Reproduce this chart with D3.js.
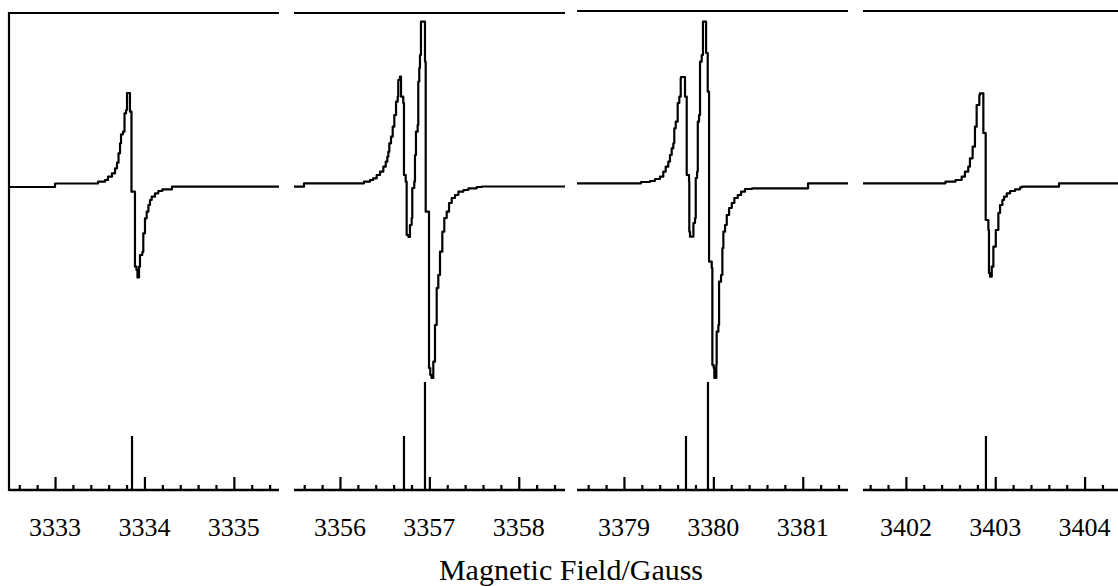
<!DOCTYPE html>
<html>
<head>
<meta charset="utf-8">
<script src="https://cdn.jsdelivr.net/npm/d3@7"></script>
<style>
  html, body { margin: 0; padding: 0; background: #fff; }
  svg { display: block; }
  text { font-family: "Liberation Serif", "Times New Roman", serif; fill: #000; }
</style>
</head>
<body>
<svg id="chart" width="1118" height="586"></svg>
<script>
// Field windows (Gauss) shown in each of the four panels
const fieldWindows = [
  [3332.485, 3335.505],
  [3355.486, 3358.517],
  [3378.475, 3381.506],
  [3401.520, 3404.553]
];

// Labelled major ticks for each panel
const majorTicks = [
  [3333, 3334, 3335],
  [3356, 3357, 3358],
  [3379, 3380, 3381],
  [3402, 3403, 3404]
];

// First-derivative EPR traces: [field (G), intensity (a.u.)]
const spectrum1 = [
  [3332.485, -1], [3332.977, -1], [3333.000, 2.5], [3333.469, 2.5], [3333.481, 4.3],
  [3333.559, 6], [3333.592, 9.3], [3333.637, 12.7], [3333.671, 17.7], [3333.693, 23.3],
  [3333.710, 32.7], [3333.727, 42.7], [3333.738, 51.7], [3333.760, 54.3], [3333.777, 72.7],
  [3333.794, 76], [3333.805, 93], [3333.833, 93], [3333.838, 74.3], [3333.855, 69.3],
  [3333.855, -5.7], [3333.894, -15.7], [3333.894, -80.7], [3333.911, -84], [3333.922, -91.5],
  [3333.939, -80.7], [3333.950, -69], [3333.976, -66], [3333.987, -47.3], [3334.006, -32.3],
  [3334.025, -25.7], [3334.044, -19], [3334.062, -14], [3334.081, -10.7], [3334.118, -7.3],
  [3334.155, -5], [3334.200, -3.3], [3334.308, -0.7], [3335.505, -0.7]
];

const spectrum2 = [
  [3355.486, -0.7], [3355.587, -0.7], [3355.598, 2.7], [3356.258, 2.7], [3356.269, 4.3],
  [3356.336, 6], [3356.370, 7.7], [3356.411, 11], [3356.448, 14.3], [3356.485, 19.3],
  [3356.512, 24.3], [3356.530, 29.3], [3356.541, 34.3], [3356.552, 42.7], [3356.571, 49.3],
  [3356.590, 59.3], [3356.608, 71], [3356.627, 84.3], [3356.646, 89.3], [3356.652, 106],
  [3356.671, 109.3], [3356.683, 89.3], [3356.708, 83], [3356.716, 11], [3356.735, 4.3],
  [3356.746, -49], [3356.766, -51], [3356.783, -39], [3356.802, -32], [3356.809, -2],
  [3356.831, 4.3], [3356.839, 31], [3356.850, 54.3], [3356.869, 61], [3356.876, 104.3],
  [3356.887, 118], [3356.895, 131], [3356.906, 164.3], [3356.928, 164.3], [3356.951, 124.3],
  [3356.959, -25.7], [3356.996, -49], [3356.996, -182], [3357.010, -189], [3357.024, -192],
  [3357.044, -175.7], [3357.063, -139], [3357.082, -102], [3357.100, -89], [3357.119, -65.7],
  [3357.145, -45.7], [3357.167, -32], [3357.194, -25.7], [3357.220, -17], [3357.250, -12],
  [3357.287, -9], [3357.324, -5.7], [3357.380, -4], [3357.436, -2.3], [3357.530, -1],
  [3357.589, -0.5], [3358.517, -0.5]
];

const spectrum3 = [
  [3378.475, 2.7], [3379.180, 2.7], [3379.191, 4], [3379.292, 5], [3379.347, 7],
  [3379.403, 9.3], [3379.440, 14.3], [3379.467, 19.3], [3379.496, 24.3], [3379.515, 31],
  [3379.534, 37.7], [3379.552, 42.7], [3379.563, 57.7], [3379.579, 64.3], [3379.601, 83],
  [3379.619, 89.3], [3379.635, 107.7], [3379.638, 109], [3379.683, 109], [3379.683, 89.3],
  [3379.702, 84.3], [3379.702, 11], [3379.728, 4.3], [3379.731, -45.7], [3379.739, -50.7],
  [3379.765, -50.7], [3379.777, -37], [3379.795, -32], [3379.803, 8], [3379.818, 14.3],
  [3379.826, 64.3], [3379.840, 71], [3379.851, 124.3], [3379.870, 131], [3379.884, 164.3],
  [3379.919, 164.3], [3379.919, 133], [3379.937, 94.3], [3379.952, 91], [3379.952, -75.7],
  [3379.982, -82], [3379.989, -179], [3380.004, -182], [3380.011, -192], [3380.033, -179],
  [3380.037, -145.7], [3380.056, -139], [3380.064, -95.7], [3380.086, -89], [3380.101, -62],
  [3380.112, -45.7], [3380.131, -39], [3380.150, -29], [3380.176, -22], [3380.206, -17],
  [3380.235, -12], [3380.273, -9], [3380.310, -5.7], [3380.354, -3], [3380.433, -2.3],
  [3381.048, -2.3], [3381.059, 2.7], [3381.506, 2.7]
];

const spectrum4 = [
  [3401.520, 2.7], [3402.437, 2.7], [3402.443, 4.3], [3402.549, 4.3], [3402.555, 6],
  [3402.624, 9.3], [3402.661, 14.3], [3402.698, 19.3], [3402.717, 27.7], [3402.747, 39.3],
  [3402.773, 59.3], [3402.792, 81], [3402.822, 91], [3402.829, 92.7], [3402.867, 92.7],
  [3402.867, 53], [3402.893, 46], [3402.893, -34], [3402.923, -44], [3402.930, -87],
  [3402.942, -90.7], [3402.961, -90.7], [3402.961, -80.7], [3402.979, -60.7], [3403.006, -44],
  [3403.035, -27], [3403.054, -19], [3403.080, -14], [3403.099, -10.7], [3403.129, -7.3],
  [3403.166, -5], [3403.222, -3.3], [3403.278, -1.3], [3403.300, -0.7], [3403.703, -0.7],
  [3403.714, 2.7], [3404.553, 2.7]
];

// Stick spectra (line positions and relative intensities)
const sticks1 = [[3333.861, 0.5]];
const sticks2 = [[3356.716, 0.5], [3356.951, 1.0]];
const sticks3 = [[3379.694, 0.5], [3379.940, 1.0]];
const sticks4 = [[3402.896, 0.5]];

const axisTitle = "Magnetic Field/Gauss";

const spectra = [spectrum1, spectrum2, spectrum3, spectrum4];
const stickSets = [sticks1, sticks2, sticks3, sticks4];

// ---- layout ----
const panelPx = [[9, 279], [294, 565], [577, 848], [863, 1134]];
const frameTop = [13, 13, 11, 11];
const axisY = 490;
const stroke = 2.2;

const svg = d3.select("#chart");

const y = d3.scaleLinear().domain([-304, 173]).range([axisY, 13]);
const yStick = d3.scaleLinear().domain([0, 1]).range([axisY, 382]);

spectra.forEach((data, i) => {
  const x = d3.scaleLinear().domain(fieldWindows[i]).range(panelPx[i]);
  const g = svg.append("g");
  const [x0, x1] = panelPx[i];

  // top frame line
  g.append("line")
    .attr("x1", x0).attr("x2", x1)
    .attr("y1", frameTop[i]).attr("y2", frameTop[i])
    .attr("stroke", "#000").attr("stroke-width", stroke);

  // left frame on the first panel only
  if (i === 0) {
    g.append("line")
      .attr("x1", x0).attr("x2", x0)
      .attr("y1", frameTop[i] - 1).attr("y2", axisY + 1)
      .attr("stroke", "#000").attr("stroke-width", stroke);
  }

  // minor ticks every 0.2 G
  const [lo, hi] = fieldWindows[i];
  const minor = d3.range(Math.ceil(lo * 5), Math.floor(hi * 5) + 1)
    .map(k => k / 5)
    .filter(v => Math.abs(v - Math.round(v)) > 1e-6);

  const minorAxis = d3.axisTop(x).tickValues(minor).tickSize(5).tickFormat("");
  const majorAxis = d3.axisTop(x).tickValues(majorTicks[i]).tickSize(13).tickFormat("");

  [minorAxis, majorAxis].forEach(ax => {
    const a = g.append("g").attr("transform", `translate(0,${axisY})`).call(ax);
    a.select(".domain").remove();
    a.selectAll(".tick line").attr("stroke", "#000").attr("stroke-width", stroke);
  });

  // axis base line
  g.append("line")
    .attr("x1", x0).attr("x2", x1)
    .attr("y1", axisY).attr("y2", axisY)
    .attr("stroke", "#000").attr("stroke-width", 2.5);

  // tick labels
  g.selectAll("text.tl").data(majorTicks[i]).join("text")
    .attr("class", "tl")
    .attr("x", d => x(d))
    .attr("y", 535.5)
    .attr("text-anchor", "middle")
    .attr("font-size", 26)
    .text(d => d);

  // stick spectrum
  g.selectAll("line.stick").data(stickSets[i]).join("line")
    .attr("class", "stick")
    .attr("x1", d => x(d[0])).attr("x2", d => x(d[0]))
    .attr("y1", yStick(0)).attr("y2", d => yStick(d[1]))
    .attr("stroke", "#000").attr("stroke-width", stroke);

  // derivative trace
  const line = d3.line()
    .x(d => x(d[0]))
    .y(d => y(d[1]))
    .curve(d3.curveStepAfter);

  g.append("path")
    .datum(data)
    .attr("d", line)
    .attr("fill", "none")
    .attr("stroke", "#000")
    .attr("stroke-width", stroke)
    .attr("stroke-linejoin", "round");
});

svg.append("text")
  .attr("x", 571)
  .attr("y", 580)
  .attr("text-anchor", "middle")
  .attr("font-size", 30)
  .text(axisTitle);
</script>
</body>
</html>
